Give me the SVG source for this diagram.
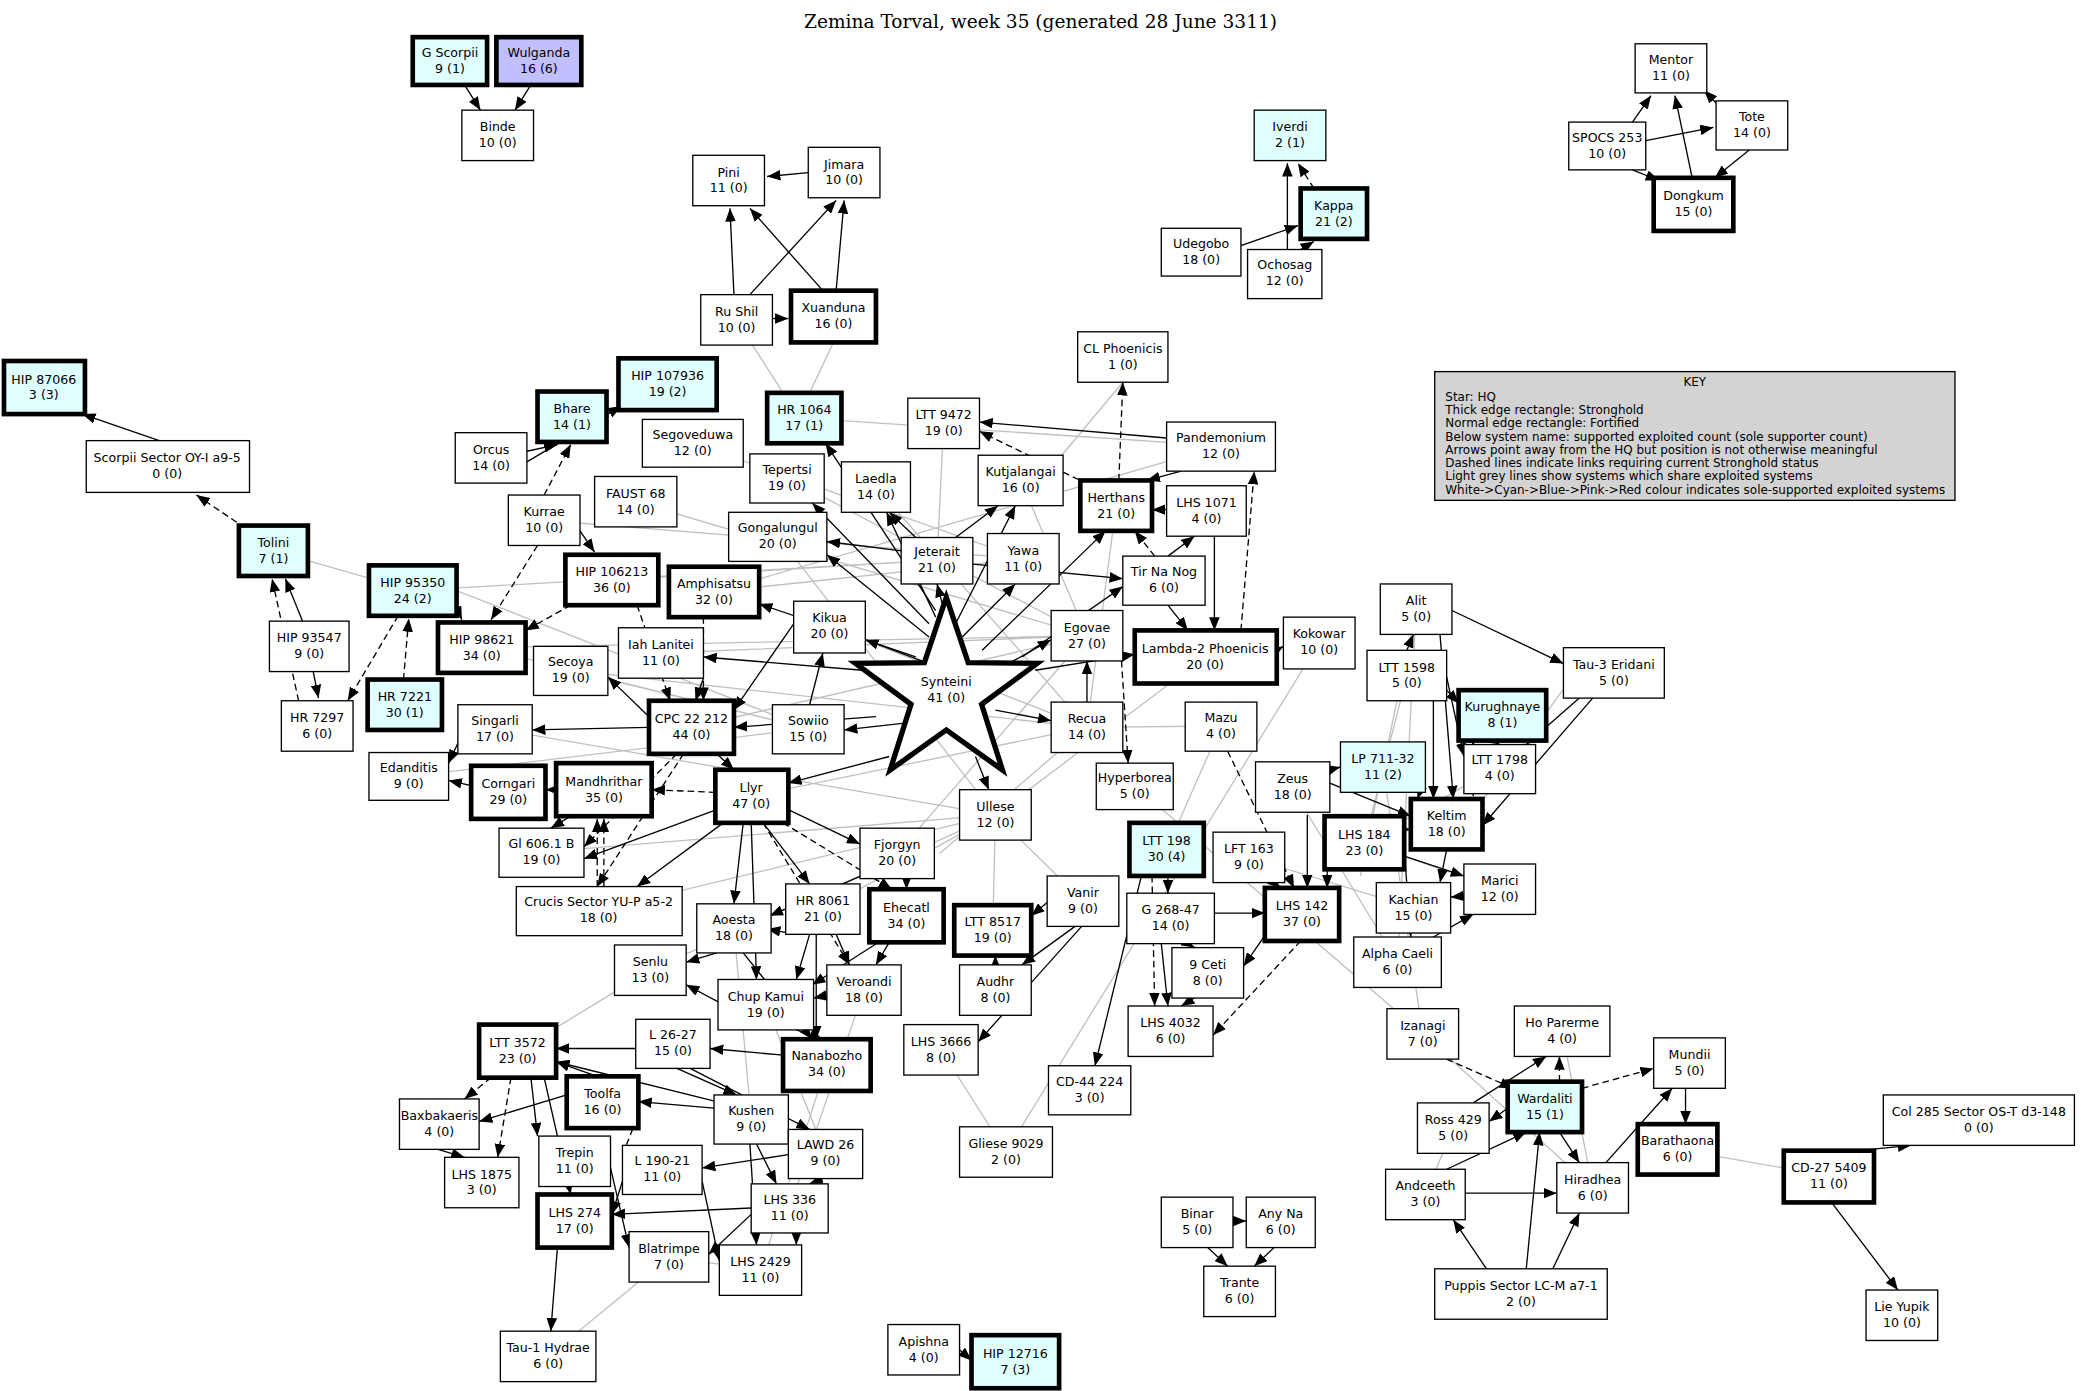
<svg xmlns="http://www.w3.org/2000/svg" width="2081" height="1391" viewBox="0 0 2081 1391">
<style>
rect{fill:#fff;stroke:#000;stroke-width:1}
.t{stroke-width:3.5}
.c{fill:#e0ffff}
.b{fill:#c0c0ff}
text{font-family:"DejaVu Sans","Liberation Sans",sans-serif;font-size:9.5px;text-anchor:middle;fill:#000}
.g{stroke:#c0c0c0;stroke-width:1;fill:none}
.e{stroke:#000;stroke-width:1;fill:none;marker-end:url(#a)}
.d{stroke:#000;stroke-width:1;fill:none;stroke-dasharray:5,3;marker-end:url(#a)}
.k text{text-anchor:start;font-size:9px}
</style>
<defs><marker id="a" markerUnits="userSpaceOnUse" markerWidth="10" markerHeight="8" refX="10" refY="4" orient="auto"><path d="M0,0L10,4L0,8z" fill="#000"/></marker></defs>
<rect x="0" y="0" width="2081" height="1391" style="stroke:none"/>
<g transform="scale(1.3272)">
<text x="784" y="21" style="font-family:'DejaVu Serif','Liberation Serif',serif;font-size:14px">Zemina Torval, week 35 (generated 28 June 3311)</text>
<g id="edges">
<path class="g" d="M567,260L590,296M628,258L610,296M846,288L800,343M206,415L311,445M461,437L706,422M311,445L706,422M363,488L819,479M430,505L819,548M373,549L750,614M308,585L609,549M410,392L771,421M479,378L819,479M522,334L771,421M593,360L819,479M660,367L819,548M586,404L750,614M538,446L771,421M498,492L819,479M625,472L819,548M521,548L819,479M566,600L819,548M676,643L819,479M620,685L750,614M750,614L816,679M750,614L490,731M750,614L748,701M920,547L819,548M920,547L879,640M855,592L1072,779M994,484L758,868M973,593L1053,725M1067,459L1053,725M1042,578L1072,779M1072,779L1200,895M1177,777L1200,895M1264,866L1378,886M1074,900L1095,850M1060,509L1028,635M1065,684L941,646M1028,635L1130,670M490,731L390,792M577,757L622,869M623,802L573,957M553,700L566,843M651,746L595,910M413,1022L504,947M573,957L504,947M758,868L709,791M408,642L750,614M451,686L750,614M606,315L920,336M711,319L706,422M769,362L819,479M920,336L538,446M841,381L819,548M908,495L750,614M1067,459L1025,660M1187,507L1090,640M1127,579L1028,635M708,643L819,548M363,488L609,549M430,505L609,549M344,445L609,549"/>
<path class="e" d="M350,64L362,83"/><path class="e" d="M400,64L388,83"/><path class="e" d="M609,130L578,133"/><path class="e" d="M553,222L550,157"/><path class="e" d="M565,222L630,151"/><path class="e" d="M620,219L565,157"/><path class="e" d="M630,219L636,151"/><path class="e" d="M582,240L594,240"/><path class="e" d="M935,185L978,170"/><path class="e" d="M970,188L970,123"/><path class="e" d="M980,188L990,182"/><path class="e" d="M1230,92L1244,72"/><path class="e" d="M1300,85L1284,68"/><path class="e" d="M1240,106L1291,96"/><path class="e" d="M1275,134L1262,72"/><path class="e" d="M1230,128L1250,136"/><path class="e" d="M1318,113L1292,134"/><path class="e" d="M120,332L62,312"/><path class="e" d="M228,468L215,436"/><path class="e" d="M236,506L240,526"/><path class="e" d="M397,340L420,335"/><path class="e" d="M397,348L468,306"/><path class="e" d="M437,400L448,416"/><path class="e" d="M344,458L348,467"/>
<path class="d" d="M990,142L978,123"/><path class="d" d="M185,398L148,373"/><path class="d" d="M225,528L205,436"/><path class="d" d="M300,464L262,528"/><path class="d" d="M304,512L308,466"/><path class="d" d="M410,373L430,335"/><path class="d" d="M405,411L370,467"/><path class="d" d="M430,456L396,475"/>
<path class="e" d="M700,500L652,482"/><path class="e" d="M650,505L530,495"/><path class="e" d="M660,540L553,548"/><path class="e" d="M680,545L636,550"/><path class="e" d="M690,495L572,455"/><path class="e" d="M700,480L623,418"/><path class="e" d="M705,465L668,386"/><path class="e" d="M710,455L706,440"/><path class="e" d="M725,480L765,440"/><path class="e" d="M760,500L792,482"/><path class="e" d="M750,535L792,543"/><path class="e" d="M735,570L745,595"/><path class="e" d="M670,570L594,590"/><path class="e" d="M740,490L833,400"/><path class="e" d="M770,495L846,442"/><path class="e" d="M780,505L855,493"/><path class="e" d="M700,470L612,379"/><path class="e" d="M705,460L622,334"/><path class="e" d="M720,470L765,381"/>
<path class="e" d="M720,405L752,381"/><path class="e" d="M690,405L670,386"/><path class="e" d="M679,415L623,408"/><path class="e" d="M733,425L846,436"/><path class="e" d="M879,330L738,318"/><path class="e" d="M890,355L864,362"/><path class="e" d="M879,384L868,384"/><path class="e" d="M880,419L900,404"/><path class="e" d="M915,404L915,475"/><path class="e" d="M880,456L895,475"/><path class="e" d="M962,490L967,487"/><path class="e" d="M819,529L819,498"/><path class="e" d="M610,531L620,492"/><path class="e" d="M598,470L553,535"/><path class="e" d="M530,511L524,528"/><path class="e" d="M489,540L458,510"/><path class="e" d="M540,568L553,580"/><path class="e" d="M489,548L401,550"/>
<path class="d" d="M935,475L945,355"/><path class="d" d="M843,362L846,288"/><path class="d" d="M820,365L738,325"/><path class="d" d="M870,419L855,400"/><path class="d" d="M530,465L530,528"/><path class="d" d="M480,456L505,528"/><path class="d" d="M845,498L850,575"/><path class="d" d="M510,568L440,638"/><path class="d" d="M515,568L450,668"/>
<path class="d" d="M539,597L491,595"/><path class="d" d="M590,620L672,670"/><path class="d" d="M575,620L640,727"/>
<path class="e" d="M540,610L440,647"/><path class="e" d="M545,620L480,668"/><path class="e" d="M560,620L553,681"/><path class="e" d="M575,620L610,666"/><path class="e" d="M594,610L648,636"/><path class="e" d="M566,620L570,738"/><path class="e" d="M419,595L411,595"/><path class="e" d="M355,592L338,588"/><path class="e" d="M345,560L338,575"/><path class="e" d="M430,615L415,624"/><path class="e" d="M660,655L580,690"/><path class="e" d="M683,662L683,670"/><path class="e" d="M600,704L578,700"/><path class="e" d="M630,704L640,727"/><path class="e" d="M610,704L600,738"/><path class="e" d="M615,704L615,783"/><path class="e" d="M670,710L660,727"/><path class="e" d="M662,710L612,742"/><path class="e" d="M540,718L517,725"/><path class="e" d="M560,718L612,783"/><path class="e" d="M545,757L517,742"/><path class="e" d="M600,776L620,783"/><path class="e" d="M623,750L613,752"/><path class="e" d="M789,680L777,690"/><path class="e" d="M810,698L770,727"/><path class="e" d="M815,698L737,785"/><path class="e" d="M750,727L750,720"/><path class="e" d="M860,660L825,803"/><path class="e" d="M880,660L880,673"/><path class="e" d="M915,688L953,688"/><path class="e" d="M895,711L900,714"/><path class="e" d="M875,711L880,758"/><path class="e" d="M900,752L890,758"/><path class="e" d="M960,665L965,669"/><path class="e" d="M953,705L937,728"/><path class="e" d="M1000,655L1000,669"/><path class="e" d="M985,614L985,669"/><path class="e" d="M1058,625L1063,625"/><path class="e" d="M1080,528L1080,602"/><path class="e" d="M1090,510L1103,570"/><path class="e" d="M1060,490L1065,478"/><path class="e" d="M1090,520L1099,530"/><path class="e" d="M1094,460L1178,500"/><path class="e" d="M1085,478L1095,602"/><path class="e" d="M1200,526L1117,622"/><path class="e" d="M1190,526L1150,561"/><path class="e" d="M1125,558L1130,561"/><path class="e" d="M1074,585L1068,602"/><path class="e" d="M1002,590L1063,615"/><path class="e" d="M1002,580L1010,578"/><path class="e" d="M1058,645L1103,660"/><path class="e" d="M1103,675L1093,676"/><path class="e" d="M1080,706L1110,689"/><path class="e" d="M1058,640L1063,706"/><path class="e" d="M1090,640L1085,665"/>
<path class="d" d="M1110,600L1110,558"/><path class="d" d="M925,566L975,669"/><path class="d" d="M980,709L914,780"/><path class="d" d="M868,660L870,758"/><path class="d" d="M1090,798L1140,820"/><path class="d" d="M1175,815L1175,796"/><path class="d" d="M1192,820L1246,805"/><path class="d" d="M455,668L455,617"/><path class="d" d="M450,668L450,617"/>
<path class="e" d="M1110,831L1165,796"/><path class="e" d="M1136,835L1122,845"/><path class="e" d="M1175,853L1190,876"/><path class="e" d="M1270,820L1270,847"/><path class="e" d="M1210,876L1260,820"/><path class="e" d="M1090,881L1150,853"/><path class="e" d="M1104,899L1173,899"/><path class="e" d="M1120,956L1095,919"/><path class="e" d="M1150,956L1160,853"/><path class="e" d="M1170,956L1190,914"/><path class="e" d="M1400,867L1440,863"/><path class="e" d="M1380,906L1430,972"/><path class="e" d="M929,920L939,920"/><path class="e" d="M910,940L925,954"/><path class="e" d="M960,940L945,954"/><path class="e" d="M723,1017L732,1025"/><path class="e" d="M420,940L415,1003"/><path class="e" d="M479,790L419,790"/><path class="e" d="M590,795L535,790"/><path class="e" d="M400,812L405,856"/><path class="e" d="M410,812L430,900"/><path class="e" d="M427,825L361,845"/><path class="e" d="M450,811L419,800"/><path class="e" d="M538,835L481,830"/><path class="e" d="M540,830L419,800"/><path class="e" d="M510,805L555,825"/><path class="e" d="M520,805L610,851"/><path class="e" d="M570,862L585,892"/><path class="e" d="M565,862L570,938"/><path class="e" d="M620,888L610,892"/><path class="e" d="M594,870L529,880"/><path class="e" d="M469,890L461,915"/><path class="e" d="M529,890L542,950"/><path class="e" d="M570,910L461,915"/><path class="e" d="M600,929L600,938"/><path class="e" d="M566,915L534,945"/><path class="e" d="M460,880L474,940"/><path class="e" d="M330,866L350,872"/>
<path class="d" d="M370,812L350,828"/><path class="d" d="M385,812L375,872"/><path class="d" d="M469,870L481,840"/>
</g>
<g id="star"><path d="M713,450L729.5,499.3L781.5,499.8L739.6,530.7L755.3,580.2L713,550L670.7,580.2L686.4,530.7L644.5,499.8L696.5,499.3Z" fill="#fff" stroke="#000" stroke-width="4"/><text x="713" y="517">Synteini<tspan x="713" dy="12">41 (0)</tspan></text></g>
<g id="n1"><rect class="t c" x="311" y="28" width="56" height="36"/><text x="339" y="43">G Scorpii<tspan x="339" dy="12">9 (1)</tspan></text></g>
<g id="n2"><rect class="t b" x="374" y="28" width="64" height="36"/><text x="406" y="43">Wulganda<tspan x="406" dy="12">16 (6)</tspan></text></g>
<g id="n3"><rect x="348" y="83" width="54" height="38"/><text x="375" y="99">Binde<tspan x="375" dy="12">10 (0)</tspan></text></g>
<g id="n4"><rect x="522" y="117" width="54" height="38"/><text x="549" y="133">Pini<tspan x="549" dy="12">11 (0)</tspan></text></g>
<g id="n5"><rect x="609" y="111" width="54" height="38"/><text x="636" y="127">Jimara<tspan x="636" dy="12">10 (0)</tspan></text></g>
<g id="n6"><rect x="528" y="222" width="54" height="38"/><text x="555" y="238">Ru Shil<tspan x="555" dy="12">10 (0)</tspan></text></g>
<g id="n7"><rect class="t" x="596" y="219" width="64" height="39"/><text x="628" y="235">Xuanduna<tspan x="628" dy="12">16 (0)</tspan></text></g>
<g id="n8"><rect class="c" x="945" y="83" width="54" height="38"/><text x="972" y="99">Iverdi<tspan x="972" dy="12">2 (1)</tspan></text></g>
<g id="n9"><rect class="t c" x="980" y="142" width="50" height="38"/><text x="1005" y="158">Kappa<tspan x="1005" dy="12">21 (2)</tspan></text></g>
<g id="n10"><rect x="875" y="172" width="60" height="36"/><text x="905" y="187">Udegobo<tspan x="905" dy="12">18 (0)</tspan></text></g>
<g id="n11"><rect x="940" y="188" width="56" height="37"/><text x="968" y="203">Ochosag<tspan x="968" dy="12">12 (0)</tspan></text></g>
<g id="n12"><rect x="1232" y="33" width="54" height="37"/><text x="1259" y="48">Mentor<tspan x="1259" dy="12">11 (0)</tspan></text></g>
<g id="n13"><rect x="1182" y="92" width="58" height="36"/><text x="1211" y="107">SPOCS 253<tspan x="1211" dy="12">10 (0)</tspan></text></g>
<g id="n14"><rect x="1293" y="76" width="54" height="37"/><text x="1320" y="91">Tote<tspan x="1320" dy="12">14 (0)</tspan></text></g>
<g id="n15"><rect class="t" x="1246" y="134" width="60" height="40"/><text x="1276" y="151">Dongkum<tspan x="1276" dy="12">15 (0)</tspan></text></g>
<g id="n16"><rect x="812" y="250" width="68" height="38"/><text x="846" y="266">CL Phoenicis<tspan x="846" dy="12">1 (0)</tspan></text></g>
<g id="n17"><rect class="t c" x="3" y="272" width="61" height="40"/><text x="33" y="289">HIP 87066<tspan x="33" dy="12">3 (3)</tspan></text></g>
<g id="n18"><rect x="65" y="332" width="123" height="39"/><text x="126" y="348">Scorpii Sector OY-I a9-5<tspan x="126" dy="12">0 (0)</tspan></text></g>
<g id="n19"><rect class="t c" x="466" y="270" width="74" height="39"/><text x="503" y="286">HIP 107936<tspan x="503" dy="12">19 (2)</tspan></text></g>
<g id="n20"><rect class="t c" x="405" y="295" width="52" height="38"/><text x="431" y="311">Bhare<tspan x="431" dy="12">14 (1)</tspan></text></g>
<g id="n21"><rect class="t c" x="578" y="296" width="56" height="38"/><text x="606" y="312">HR 1064<tspan x="606" dy="12">17 (1)</tspan></text></g>
<g id="n22"><rect x="684" y="300" width="54" height="38"/><text x="711" y="316">LTT 9472<tspan x="711" dy="12">19 (0)</tspan></text></g>
<g id="n23"><rect x="343" y="326" width="54" height="38"/><text x="370" y="342">Orcus<tspan x="370" dy="12">14 (0)</tspan></text></g>
<g id="n24"><rect x="484" y="316" width="76" height="36"/><text x="522" y="331">Segoveduwa<tspan x="522" dy="12">12 (0)</tspan></text></g>
<g id="n25"><rect x="565" y="342" width="56" height="37"/><text x="593" y="357">Tepertsi<tspan x="593" dy="12">19 (0)</tspan></text></g>
<g id="n26"><rect x="879" y="318" width="82" height="37"/><text x="920" y="333">Pandemonium<tspan x="920" dy="12">12 (0)</tspan></text></g>
<g id="n27"><rect x="737" y="343" width="64" height="38"/><text x="769" y="359">Kutjalangai<tspan x="769" dy="12">16 (0)</tspan></text></g>
<g id="n28"><rect x="634" y="348" width="52" height="38"/><text x="660" y="364">Laedla<tspan x="660" dy="12">14 (0)</tspan></text></g>
<g id="n29"><rect x="448" y="359" width="62" height="38"/><text x="479" y="375">FAUST 68<tspan x="479" dy="12">14 (0)</tspan></text></g>
<g id="n30"><rect class="t" x="814" y="362" width="54" height="38"/><text x="841" y="378">Herthans<tspan x="841" dy="12">21 (0)</tspan></text></g>
<g id="n31"><rect x="879" y="366" width="60" height="38"/><text x="909" y="382">LHS 1071<tspan x="909" dy="12">4 (0)</tspan></text></g>
<g id="n32"><rect x="383" y="373" width="54" height="38"/><text x="410" y="389">Kurrae<tspan x="410" dy="12">10 (0)</tspan></text></g>
<g id="n33"><rect x="549" y="386" width="74" height="37"/><text x="586" y="401">Gongalungul<tspan x="586" dy="12">20 (0)</tspan></text></g>
<g id="n34"><rect class="t c" x="180" y="396" width="52" height="38"/><text x="206" y="412">Tolini<tspan x="206" dy="12">7 (1)</tspan></text></g>
<g id="n35"><rect x="679" y="405" width="54" height="35"/><text x="706" y="419">Jeterait<tspan x="706" dy="12">21 (0)</tspan></text></g>
<g id="n36"><rect x="744" y="402" width="54" height="38"/><text x="771" y="418">Yawa<tspan x="771" dy="12">11 (0)</tspan></text></g>
<g id="n37"><rect class="t" x="426" y="418" width="70" height="38"/><text x="461" y="434">HIP 106213<tspan x="461" dy="12">36 (0)</tspan></text></g>
<g id="n38"><rect x="846" y="419" width="62" height="37"/><text x="877" y="434">Tir Na Nog<tspan x="877" dy="12">6 (0)</tspan></text></g>
<g id="n39"><rect class="t c" x="278" y="426" width="66" height="38"/><text x="311" y="442">HIP 95350<tspan x="311" dy="12">24 (2)</tspan></text></g>
<g id="n40"><rect class="t" x="504" y="427" width="68" height="38"/><text x="538" y="443">Amphisatsu<tspan x="538" dy="12">32 (0)</tspan></text></g>
<g id="n41"><rect x="598" y="453" width="54" height="39"/><text x="625" y="469">Kikua<tspan x="625" dy="12">20 (0)</tspan></text></g>
<g id="n42"><rect x="466" y="473" width="64" height="38"/><text x="498" y="489">Iah Lanitei<tspan x="498" dy="12">11 (0)</tspan></text></g>
<g id="n43"><rect x="792" y="460" width="54" height="38"/><text x="819" y="476">Egovae<tspan x="819" dy="12">27 (0)</tspan></text></g>
<g id="n44"><rect x="203" y="468" width="60" height="38"/><text x="233" y="484">HIP 93547<tspan x="233" dy="12">9 (0)</tspan></text></g>
<g id="n45"><rect class="t" x="330" y="469" width="66" height="38"/><text x="363" y="485">HIP 98621<tspan x="363" dy="12">34 (0)</tspan></text></g>
<g id="n47"><rect class="t" x="855" y="475" width="107" height="40"/><text x="908" y="492">Lambda-2 Phoenicis<tspan x="908" dy="12">20 (0)</tspan></text></g>
<g id="n48"><rect x="967" y="465" width="54" height="39"/><text x="994" y="481">Kokowar<tspan x="994" dy="12">10 (0)</tspan></text></g>
<g id="n49"><rect x="1040" y="440" width="54" height="38"/><text x="1067" y="456">Alit<tspan x="1067" dy="12">5 (0)</tspan></text></g>
<g id="n50"><rect x="402" y="487" width="56" height="37"/><text x="430" y="502">Secoya<tspan x="430" dy="12">19 (0)</tspan></text></g>
<g id="n51"><rect x="1178" y="488" width="76" height="38"/><text x="1216" y="504">Tau-3 Eridani<tspan x="1216" dy="12">5 (0)</tspan></text></g>
<g id="n52"><rect x="1030" y="490" width="60" height="38"/><text x="1060" y="506">LTT 1598<tspan x="1060" dy="12">5 (0)</tspan></text></g>
<g id="n53"><rect class="t c" x="1099" y="520" width="66" height="38"/><text x="1132" y="536">Kurughnaye<tspan x="1132" dy="12">8 (1)</tspan></text></g>
<g id="n54"><rect x="212" y="528" width="54" height="38"/><text x="239" y="544">HR 7297<tspan x="239" dy="12">6 (0)</tspan></text></g>
<g id="n55"><rect class="t c" x="277" y="512" width="56" height="38"/><text x="305" y="528">HR 7221<tspan x="305" dy="12">30 (1)</tspan></text></g>
<g id="n56"><rect x="345" y="531" width="56" height="37"/><text x="373" y="546">Singarli<tspan x="373" dy="12">17 (0)</tspan></text></g>
<g id="n57"><rect class="t" x="489" y="528" width="64" height="40"/><text x="521" y="545">CPC 22 212<tspan x="521" dy="12">44 (0)</tspan></text></g>
<g id="n58"><rect x="582" y="531" width="54" height="37"/><text x="609" y="546">Sowiio<tspan x="609" dy="12">15 (0)</tspan></text></g>
<g id="n59"><rect x="792" y="529" width="54" height="38"/><text x="819" y="545">Recua<tspan x="819" dy="12">14 (0)</tspan></text></g>
<g id="n60"><rect x="893" y="529" width="54" height="37"/><text x="920" y="544">Mazu<tspan x="920" dy="12">4 (0)</tspan></text></g>
<g id="n61"><rect x="1103" y="561" width="54" height="37"/><text x="1130" y="576">LTT 1798<tspan x="1130" dy="12">4 (0)</tspan></text></g>
<g id="n62"><rect x="278" y="567" width="60" height="36"/><text x="308" y="582">Edanditis<tspan x="308" dy="12">9 (0)</tspan></text></g>
<g id="n63"><rect class="c" x="1010" y="559" width="64" height="38"/><text x="1042" y="575">LP 711-32<tspan x="1042" dy="12">11 (2)</tspan></text></g>
<g id="n64"><rect x="826" y="575" width="58" height="35"/><text x="855" y="589">Hyperborea<tspan x="855" dy="12">5 (0)</tspan></text></g>
<g id="n65"><rect x="946" y="574" width="56" height="38"/><text x="974" y="590">Zeus<tspan x="974" dy="12">18 (0)</tspan></text></g>
<g id="n66"><rect class="t" x="355" y="577" width="56" height="40"/><text x="383" y="594">Corngari<tspan x="383" dy="12">29 (0)</tspan></text></g>
<g id="n67"><rect class="t" x="419" y="575" width="72" height="40"/><text x="455" y="592">Mandhrithar<tspan x="455" dy="12">35 (0)</tspan></text></g>
<g id="n68"><rect class="t" x="539" y="580" width="55" height="40"/><text x="566" y="597">Llyr<tspan x="566" dy="12">47 (0)</tspan></text></g>
<g id="n69"><rect x="723" y="595" width="54" height="38"/><text x="750" y="611">Ullese<tspan x="750" dy="12">12 (0)</tspan></text></g>
<g id="n70"><rect class="t" x="1063" y="602" width="54" height="38"/><text x="1090" y="618">Keltim<tspan x="1090" dy="12">18 (0)</tspan></text></g>
<g id="n71"><rect class="t" x="998" y="615" width="60" height="40"/><text x="1028" y="632">LHS 184<tspan x="1028" dy="12">23 (0)</tspan></text></g>
<g id="n72"><rect x="376" y="624" width="64" height="37"/><text x="408" y="639">Gl 606.1 B<tspan x="408" dy="12">19 (0)</tspan></text></g>
<g id="n73"><rect x="648" y="624" width="56" height="38"/><text x="676" y="640">Fjorgyn<tspan x="676" dy="12">20 (0)</tspan></text></g>
<g id="n74"><rect class="t c" x="851" y="620" width="56" height="40"/><text x="879" y="637">LTT 198<tspan x="879" dy="12">30 (4)</tspan></text></g>
<g id="n75"><rect x="914" y="627" width="54" height="38"/><text x="941" y="643">LFT 163<tspan x="941" dy="12">9 (0)</tspan></text></g>
<g id="n76"><rect x="1103" y="651" width="54" height="38"/><text x="1130" y="667">Marici<tspan x="1130" dy="12">12 (0)</tspan></text></g>
<g id="n77"><rect x="389" y="668" width="125" height="37"/><text x="451" y="683">Crucis Sector YU-P a5-2<tspan x="451" dy="12">18 (0)</tspan></text></g>
<g id="n78"><rect x="592" y="666" width="56" height="38"/><text x="620" y="682">HR 8061<tspan x="620" dy="12">21 (0)</tspan></text></g>
<g id="n79"><rect class="t" x="655" y="670" width="56" height="40"/><text x="683" y="687">Ehecatl<tspan x="683" dy="12">34 (0)</tspan></text></g>
<g id="n80"><rect x="789" y="660" width="54" height="38"/><text x="816" y="676">Vanir<tspan x="816" dy="12">9 (0)</tspan></text></g>
<g id="n81"><rect x="849" y="673" width="66" height="38"/><text x="882" y="689">G 268-47<tspan x="882" dy="12">14 (0)</tspan></text></g>
<g id="n82"><rect class="t" x="953" y="669" width="56" height="40"/><text x="981" y="686">LHS 142<tspan x="981" dy="12">37 (0)</tspan></text></g>
<g id="n83"><rect x="1037" y="665" width="56" height="38"/><text x="1065" y="681">Kachian<tspan x="1065" dy="12">15 (0)</tspan></text></g>
<g id="n84"><rect x="525" y="681" width="56" height="37"/><text x="553" y="696">Aoesta<tspan x="553" dy="12">18 (0)</tspan></text></g>
<g id="n85"><rect class="t" x="719" y="682" width="58" height="38"/><text x="748" y="698">LTT 8517<tspan x="748" dy="12">19 (0)</tspan></text></g>
<g id="n86"><rect x="1020" y="706" width="66" height="38"/><text x="1053" y="722">Alpha Caeli<tspan x="1053" dy="12">6 (0)</tspan></text></g>
<g id="n87"><rect x="463" y="712" width="54" height="38"/><text x="490" y="728">Senlu<tspan x="490" dy="12">13 (0)</tspan></text></g>
<g id="n88"><rect x="623" y="727" width="56" height="38"/><text x="651" y="743">Veroandi<tspan x="651" dy="12">18 (0)</tspan></text></g>
<g id="n89"><rect x="541" y="738" width="72" height="38"/><text x="577" y="754">Chup Kamui<tspan x="577" dy="12">19 (0)</tspan></text></g>
<g id="n90"><rect x="723" y="727" width="54" height="38"/><text x="750" y="743">Audhr<tspan x="750" dy="12">8 (0)</tspan></text></g>
<g id="n91"><rect x="883" y="714" width="54" height="38"/><text x="910" y="730">9 Ceti<tspan x="910" dy="12">8 (0)</tspan></text></g>
<g id="n92"><rect x="850" y="758" width="64" height="38"/><text x="882" y="774">LHS 4032<tspan x="882" dy="12">6 (0)</tspan></text></g>
<g id="n93"><rect x="1045" y="760" width="54" height="38"/><text x="1072" y="776">Izanagi<tspan x="1072" dy="12">7 (0)</tspan></text></g>
<g id="n94"><rect x="1141" y="758" width="72" height="38"/><text x="1177" y="774">Ho Parerme<tspan x="1177" dy="12">4 (0)</tspan></text></g>
<g id="n95"><rect x="1246" y="782" width="54" height="38"/><text x="1273" y="798">Mundii<tspan x="1273" dy="12">5 (0)</tspan></text></g>
<g id="n96"><rect x="479" y="768" width="56" height="37"/><text x="507" y="783">L 26-27<tspan x="507" dy="12">15 (0)</tspan></text></g>
<g id="n97"><rect class="t" x="361" y="772" width="58" height="40"/><text x="390" y="789">LTT 3572<tspan x="390" dy="12">23 (0)</tspan></text></g>
<g id="n98"><rect class="t" x="590" y="783" width="66" height="39"/><text x="623" y="799">Nanabozho<tspan x="623" dy="12">34 (0)</tspan></text></g>
<g id="n99"><rect x="681" y="772" width="56" height="38"/><text x="709" y="788">LHS 3666<tspan x="709" dy="12">8 (0)</tspan></text></g>
<g id="n100"><rect x="790" y="803" width="62" height="37"/><text x="821" y="818">CD-44 224<tspan x="821" dy="12">3 (0)</tspan></text></g>
<g id="n101"><rect class="t" x="427" y="811" width="54" height="39"/><text x="454" y="827">Toolfa<tspan x="454" dy="12">16 (0)</tspan></text></g>
<g id="n102"><rect x="538" y="825" width="56" height="37"/><text x="566" y="840">Kushen<tspan x="566" dy="12">9 (0)</tspan></text></g>
<g id="n103"><rect x="301" y="828" width="60" height="38"/><text x="331" y="844">Baxbakaeris<tspan x="331" dy="12">4 (0)</tspan></text></g>
<g id="n104"><rect class="t c" x="1136" y="815" width="56" height="38"/><text x="1164" y="831">Wardaliti<tspan x="1164" dy="12">15 (1)</tspan></text></g>
<g id="n105"><rect x="1068" y="831" width="54" height="38"/><text x="1095" y="847">Ross 429<tspan x="1095" dy="12">5 (0)</tspan></text></g>
<g id="n106"><rect class="t" x="1234" y="847" width="60" height="38"/><text x="1264" y="863">Barathaona<tspan x="1264" dy="12">6 (0)</tspan></text></g>
<g id="n107"><rect x="1419" y="825" width="144" height="38"/><text x="1491" y="841">Col 285 Sector OS-T d3-148<tspan x="1491" dy="12">0 (0)</tspan></text></g>
<g id="n108"><rect x="594" y="851" width="56" height="37"/><text x="622" y="866">LAWD 26<tspan x="622" dy="12">9 (0)</tspan></text></g>
<g id="n109"><rect x="406" y="856" width="54" height="38"/><text x="433" y="872">Trepin<tspan x="433" dy="12">11 (0)</tspan></text></g>
<g id="n110"><rect x="469" y="863" width="60" height="37"/><text x="499" y="878">L 190-21<tspan x="499" dy="12">11 (0)</tspan></text></g>
<g id="n111"><rect x="723" y="849" width="70" height="38"/><text x="758" y="865">Gliese 9029<tspan x="758" dy="12">2 (0)</tspan></text></g>
<g id="n112"><rect x="335" y="872" width="56" height="38"/><text x="363" y="888">LHS 1875<tspan x="363" dy="12">3 (0)</tspan></text></g>
<g id="n113"><rect x="1044" y="881" width="60" height="38"/><text x="1074" y="897">Andceeth<tspan x="1074" dy="12">3 (0)</tspan></text></g>
<g id="n114"><rect x="1173" y="876" width="54" height="38"/><text x="1200" y="892">Hiradhea<tspan x="1200" dy="12">6 (0)</tspan></text></g>
<g id="n115"><rect class="t" x="1344" y="867" width="68" height="39"/><text x="1378" y="883">CD-27 5409<tspan x="1378" dy="12">11 (0)</tspan></text></g>
<g id="n116"><rect x="566" y="892" width="58" height="37"/><text x="595" y="907">LHS 336<tspan x="595" dy="12">11 (0)</tspan></text></g>
<g id="n117"><rect class="t" x="405" y="900" width="56" height="40"/><text x="433" y="917">LHS 274<tspan x="433" dy="12">17 (0)</tspan></text></g>
<g id="n118"><rect x="875" y="902" width="54" height="38"/><text x="902" y="918">Binar<tspan x="902" dy="12">5 (0)</tspan></text></g>
<g id="n119"><rect x="939" y="902" width="52" height="38"/><text x="965" y="918">Any Na<tspan x="965" dy="12">6 (0)</tspan></text></g>
<g id="n120"><rect x="474" y="928" width="60" height="38"/><text x="504" y="944">Blatrimpe<tspan x="504" dy="12">7 (0)</tspan></text></g>
<g id="n121"><rect x="542" y="938" width="62" height="38"/><text x="573" y="954">LHS 2429<tspan x="573" dy="12">11 (0)</tspan></text></g>
<g id="n122"><rect x="907" y="954" width="54" height="38"/><text x="934" y="970">Trante<tspan x="934" dy="12">6 (0)</tspan></text></g>
<g id="n123"><rect x="1081" y="956" width="130" height="38"/><text x="1146" y="972">Puppis Sector LC-M a7-1<tspan x="1146" dy="12">2 (0)</tspan></text></g>
<g id="n124"><rect x="1406" y="972" width="54" height="38"/><text x="1433" y="988">Lie Yupik<tspan x="1433" dy="12">10 (0)</tspan></text></g>
<g id="n125"><rect x="377" y="1003" width="72" height="38"/><text x="413" y="1019">Tau-1 Hydrae<tspan x="413" dy="12">6 (0)</tspan></text></g>
<g id="n126"><rect x="669" y="998" width="54" height="38"/><text x="696" y="1014">Apishna<tspan x="696" dy="12">4 (0)</tspan></text></g>
<g id="n127"><rect class="t c" x="732" y="1006" width="66" height="40"/><text x="765" y="1023">HIP 12716<tspan x="765" dy="12">7 (3)</tspan></text></g>
<g id="key" class="k"><rect x="1081" y="280" width="392" height="97" style="fill:#d3d3d3"/><text x="1277" y="291" style="text-anchor:middle">KEY</text><text x="1089" y="302">Star: HQ</text><text x="1089" y="312">Thick edge rectangle: Stronghold</text><text x="1089" y="322">Normal edge rectangle: Fortified</text><text x="1089" y="332">Below system name: supported exploited count (sole supporter count)</text><text x="1089" y="342">Arrows point away from the HQ but position is not otherwise meaningful</text><text x="1089" y="352">Dashed lines indicate links requiring current Stronghold status</text><text x="1089" y="362">Light grey lines show systems which share exploited systems</text><text x="1089" y="372">White-&gt;Cyan-&gt;Blue-&gt;Pink-&gt;Red colour indicates sole-supported exploited systems</text></g>
</g>
</svg>
